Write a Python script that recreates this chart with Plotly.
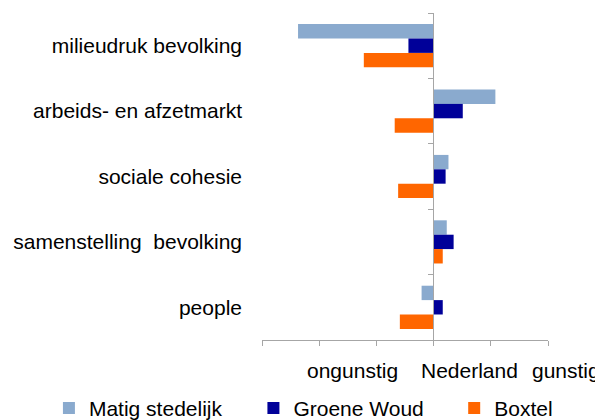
import plotly.graph_objects as go

categories = ["milieudruk bevolking", "arbeids- en afzetmarkt", "sociale cohesie",
              "samenstelling\u00a0\u00a0bevolking", "people"]
matig_stedelijk = [-2.37, 1.08, 0.26, 0.23, -0.21]
groene_woud = [-0.44, 0.51, 0.21, 0.35, 0.16]
boxtel = [-1.22, -0.68, -0.62, 0.16, -0.59]
x_labels = ["ongunstig", "Nederland", "gunstig"]

series = [
    ("Matig stedelijk", matig_stedelijk, "#8AAACE", "legend"),
    ("Groene Woud", groene_woud, "#000099", "legend2"),
    ("Boxtel", boxtel, "#FF6600", "legend3"),
]

fnt = "Liberation Sans, Arial, sans-serif"
fs = 21

fig = go.Figure()
for name, vals, col, leg in series:
    fig.add_trace(go.Bar(y=categories, x=vals, name=name, orientation="h", legend=leg,
                         marker=dict(color=col, line=dict(width=0))))

# invisible trace so the second y axis (the one crossing at zero) is drawn
fig.add_trace(go.Scatter(x=[0], y=[0], yaxis="y2", mode="markers",
                         marker=dict(opacity=0), showlegend=False, hoverinfo="skip"))

# the page body adds 8px, so the figure is drawn 8px smaller
leg_style = dict(orientation="h", xanchor="left", yref="container", y=0.078,
                 yanchor="top", font=dict(size=fs), bgcolor="rgba(0,0,0,0)")

fig.update_layout(
    width=595, height=412,
    margin=dict(l=254, r=55, t=5, b=80),
    paper_bgcolor="white", plot_bgcolor="white",
    barmode="group", bargap=0.34, bargroupgap=0,
    font=dict(family=fnt, size=fs, color="#000000"),
    xaxis=dict(range=[-3, 2], tickvals=[-3, -2, -1, 0, 1, 2], showticklabels=False,
               showgrid=False, zeroline=False, showline=True, linecolor="#A6A6A6",
               ticks="outside", ticklen=5, tickcolor="#A6A6A6", automargin=False),
    yaxis=dict(autorange="reversed", showgrid=False, zeroline=False, showline=False,
               ticks="", ticklabelstandoff=19, tickfont=dict(size=fs), automargin=False),
    yaxis2=dict(overlaying="y", anchor="free", position=0.598, range=[4.5, -0.5],
                tickvals=[-0.5, 0.5, 1.5, 2.5, 3.5, 4.5], showticklabels=False,
                showgrid=False, zeroline=False, showline=True, linecolor="#A6A6A6",
                ticks="outside", ticklen=5, tickcolor="#A6A6A6", automargin=False),
    legend=dict(x=-0.745, **leg_style),
    legend2=dict(x=-0.03, **leg_style),
    legend3=dict(x=0.672, **leg_style),
    showlegend=True,
)

for txt, xp in zip(x_labels, [0.3147, 0.7255, 1.0625]):
    fig.add_annotation(text=txt, xref="paper", yref="paper", x=xp, y=-0.092,
                       xanchor="center", yanchor="middle", showarrow=False,
                       font=dict(size=fs))

fig.write_html("out.html")
